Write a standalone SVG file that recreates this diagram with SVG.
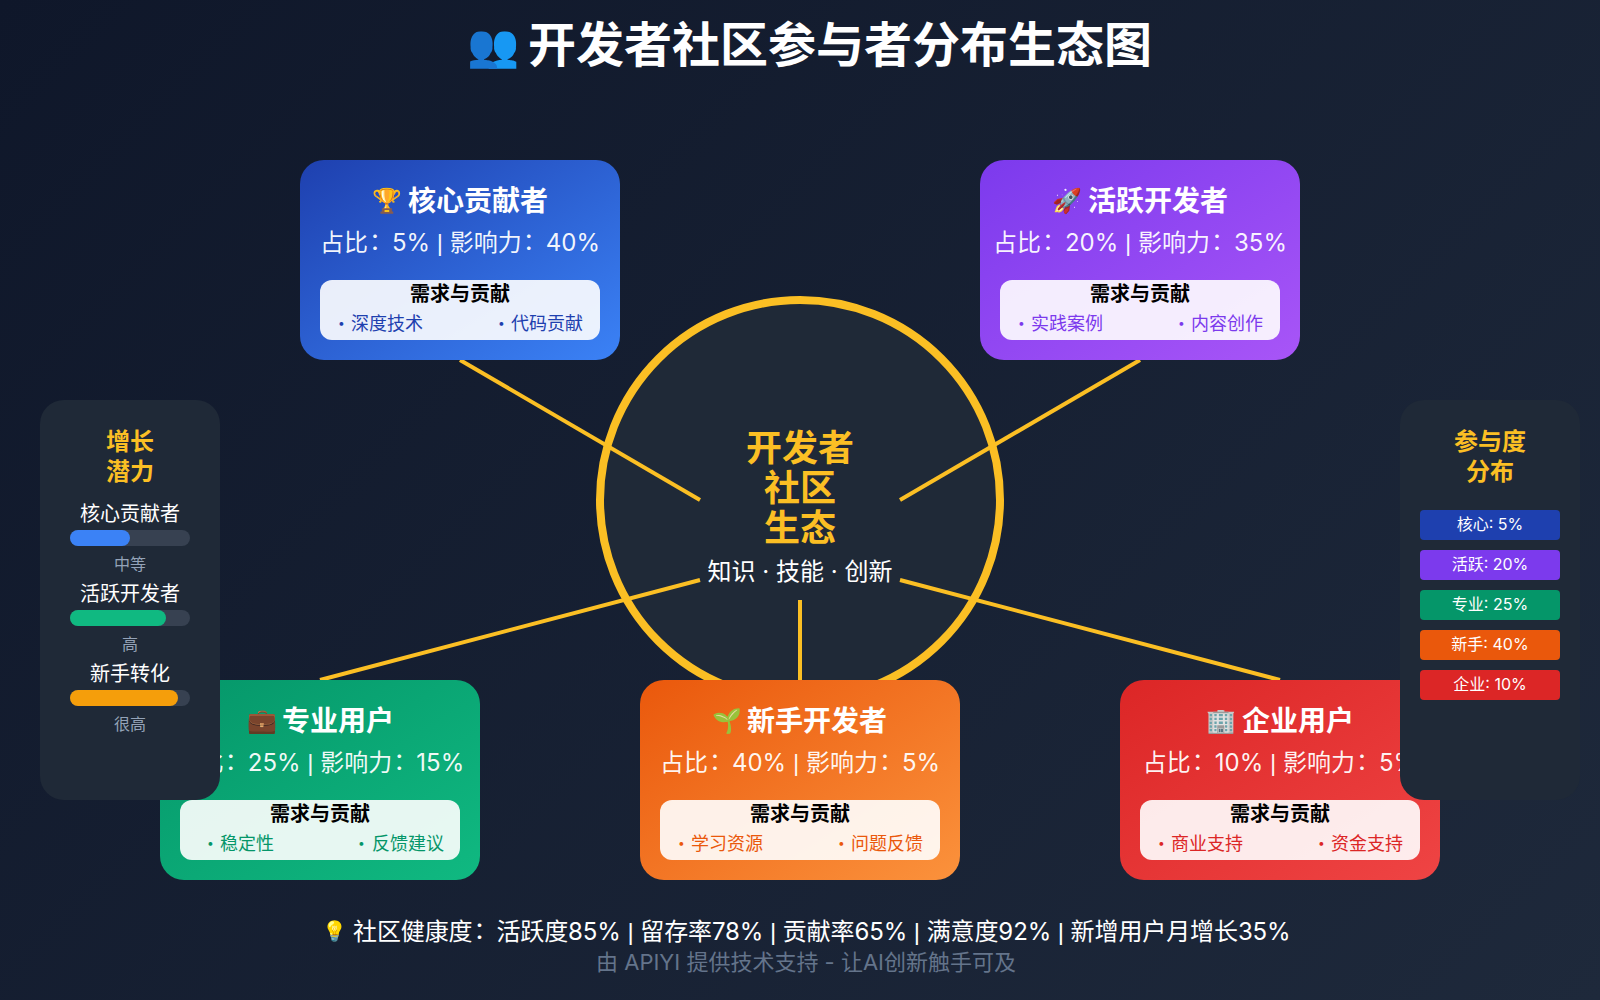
<svg xmlns="http://www.w3.org/2000/svg" width="1600" height="1000" viewBox="0 0 1600 1000">
<defs>
<linearGradient id="bg" gradientUnits="userSpaceOnUse" x1="150" y1="-150" x2="1450" y2="1150"><stop offset="0" stop-color="#0f172a"/><stop offset="1" stop-color="#1e293b"/></linearGradient>
<linearGradient id="gb" x1="0" y1="0" x2="1" y2="1"><stop offset="0" stop-color="#1e40af"/><stop offset="1" stop-color="#3b82f6"/></linearGradient>
<linearGradient id="gp" x1="0" y1="0" x2="1" y2="1"><stop offset="0" stop-color="#7c3aed"/><stop offset="1" stop-color="#a855f7"/></linearGradient>
<linearGradient id="gg" x1="0" y1="0" x2="1" y2="1"><stop offset="0" stop-color="#059669"/><stop offset="1" stop-color="#10b981"/></linearGradient>
<linearGradient id="go" x1="0" y1="0" x2="1" y2="1"><stop offset="0" stop-color="#ea580c"/><stop offset="1" stop-color="#fb923c"/></linearGradient>
<linearGradient id="gr" x1="0" y1="0" x2="1" y2="1"><stop offset="0" stop-color="#dc2626"/><stop offset="1" stop-color="#ef4444"/></linearGradient>
</defs>
<style>
text{font-family:"Inter","Noto Sans CJK SC","Noto Color Emoji",sans-serif;fill:#fff}
.m{text-anchor:middle}
.b{font-weight:700}
.ct{font-size:28px;font-weight:700}
.em{font-size:24px;font-weight:400}
.cs{font-size:24px;text-anchor:middle;fill:#fffffff2}
.nt{font-size:20px;font-weight:700;text-anchor:middle;fill:#000}
.it{font-size:18px}
.bu{font-size:12px}
.p{font-family:"Liberation Sans",sans-serif}
.c{font-family:"Noto Sans CJK TC",sans-serif}
.in{fill:#fff;fill-opacity:.9}
.panel{fill:#1f2937}
.pt{font-size:24px;font-weight:700;text-anchor:middle;fill:#fbbf24}
.pl{font-size:20px;text-anchor:middle}
.ps{font-size:16px;text-anchor:middle;fill:#94a3b8}
.tr{fill:#374151}
.lg{font-size:16px;text-anchor:middle}
.con{stroke:#fbbf24;stroke-width:4;fill:none}
.fb{fill:#1e40af}.fp{fill:#7c3aed}.fg{fill:#059669}.fo{fill:#ea580c}.fr{fill:#dc2626}
</style>
<rect width="1600" height="1000" fill="url(#bg)"/>
<g id="title"><text y="62" class="b" font-size="48"><tspan x="467" dy="-2" font-size="42" font-weight="400">👥</tspan><tspan x="528" dy="2">开发者社区参与者分布生态图</tspan></text></g>
<g id="center"><circle cx="800" cy="500" r="200" fill="#1f2937" stroke="#fbbf24" stroke-width="8"/>
<text x="800" y="461" class="m b" font-size="36" style="fill:#fbbf24">开发者</text>
<text x="800" y="501" class="m b" font-size="36" style="fill:#fbbf24">社区</text>
<text x="800" y="541" class="m b" font-size="36" style="fill:#fbbf24">生态</text>
<text x="800" y="580" class="m" font-size="24">知识 · 技能 · 创新</text></g>
<g id="connectors">
<line class="con" x1="460" y1="360" x2="700" y2="500"/>
<line class="con" x1="1140" y1="360" x2="900" y2="500"/>
<line class="con" x1="320" y1="680" x2="700" y2="580"/>
<line class="con" x1="800" y1="680" x2="800" y2="600"/>
<line class="con" x1="1280" y1="680" x2="900" y2="580"/>
</g>
<g id="core"><rect x="300" y="160" width="320" height="200" rx="24" fill="url(#gb)"/><rect class="in" x="320" y="280" width="280" height="60" rx="12"/>
<text class="ct" y="210.5"><tspan class="em" x="372" dy="-2">🏆</tspan><tspan x="408" dy="2">核心贡献者</tspan></text><text class="cs" x="460" y="250.5">占比<tspan class="c" dx="-5">：</tspan><tspan dx="5">5% </tspan><tspan class="p">|</tspan> 影响力<tspan class="c" dx="-5">：</tspan><tspan dx="5">40%</tspan></text><text class="nt" x="460" y="300.5">需求与贡献</text>
<text class="it fb" y="330"><tspan class="bu" x="338" dy="-3">•</tspan><tspan x="351" dy="3">深度技术</tspan><tspan class="bu" x="498" dy="-3">•</tspan><tspan x="511" dy="3">代码贡献</tspan></text></g>
<g id="active"><rect x="980" y="160" width="320" height="200" rx="24" fill="url(#gp)"/><rect class="in" x="1000" y="280" width="280" height="60" rx="12"/>
<text class="ct" y="210.5"><tspan class="em" x="1052" dy="-2">🚀</tspan><tspan x="1088" dy="2">活跃开发者</tspan></text><text class="cs" x="1140" y="250.5">占比<tspan class="c" dx="-5">：</tspan><tspan dx="5">20% </tspan><tspan class="p">|</tspan> 影响力<tspan class="c" dx="-5">：</tspan><tspan dx="5">35%</tspan></text><text class="nt" x="1140" y="300.5">需求与贡献</text>
<text class="it fp" y="330"><tspan class="bu" x="1018" dy="-3">•</tspan><tspan x="1031" dy="3">实践案例</tspan><tspan class="bu" x="1178" dy="-3">•</tspan><tspan x="1191" dy="3">内容创作</tspan></text></g>
<g id="pro"><rect x="160" y="680" width="320" height="200" rx="24" fill="url(#gg)"/><rect class="in" x="180" y="800" width="280" height="60" rx="12"/>
<text class="ct" y="730.5"><tspan class="em" x="247" dy="-2">💼</tspan><tspan x="282" dy="2">专业用户</tspan></text><text class="cs" x="320" y="770.5">占比<tspan class="c" dx="-5">：</tspan><tspan dx="5">25% </tspan><tspan class="p">|</tspan> 影响力<tspan class="c" dx="-5">：</tspan><tspan dx="5">15%</tspan></text><text class="nt" x="320" y="820.5">需求与贡献</text>
<text class="it fg" y="850"><tspan class="bu" x="207" dy="-3">•</tspan><tspan x="220" dy="3">稳定性</tspan><tspan class="bu" x="358" dy="-3">•</tspan><tspan x="372" dy="3">反馈建议</tspan></text></g>
<g id="newbie"><rect x="640" y="680" width="320" height="200" rx="24" fill="url(#go)"/><rect class="in" x="660" y="800" width="280" height="60" rx="12"/>
<text class="ct" y="730.5"><tspan class="em" x="712" dy="-2">🌱</tspan><tspan x="747" dy="2">新手开发者</tspan></text><text class="cs" x="800" y="770.5">占比<tspan class="c" dx="-5">：</tspan><tspan dx="5">40% </tspan><tspan class="p">|</tspan> 影响力<tspan class="c" dx="-5">：</tspan><tspan dx="5">5%</tspan></text><text class="nt" x="800" y="820.5">需求与贡献</text>
<text class="it fo" y="850"><tspan class="bu" x="678" dy="-3">•</tspan><tspan x="691" dy="3">学习资源</tspan><tspan class="bu" x="838" dy="-3">•</tspan><tspan x="851" dy="3">问题反馈</tspan></text></g>
<g id="enterprise"><rect x="1120" y="680" width="320" height="200" rx="24" fill="url(#gr)"/><rect class="in" x="1140" y="800" width="280" height="60" rx="12"/>
<text class="ct" y="730.5"><tspan class="em" x="1206" dy="-2">🏢</tspan><tspan x="1242" dy="2">企业用户</tspan></text><text class="cs" x="1280" y="770.5">占比<tspan class="c" dx="-5">：</tspan><tspan dx="5">10% </tspan><tspan class="p">|</tspan> 影响力<tspan class="c" dx="-5">：</tspan><tspan dx="5">5%</tspan></text><text class="nt" x="1280" y="820.5">需求与贡献</text>
<text class="it fr" y="850"><tspan class="bu" x="1158" dy="-3">•</tspan><tspan x="1171" dy="3">商业支持</tspan><tspan class="bu" x="1318" dy="-3">•</tspan><tspan x="1331" dy="3">资金支持</tspan></text></g>
<g id="growth"><rect class="panel" x="40" y="400" width="180" height="400" rx="24"/>
<text class="pt" x="130" y="450">增长</text><text class="pt" x="130" y="480">潜力</text>
<text class="pl" x="130" y="521">核心贡献者</text><rect class="tr" x="70" y="530" width="120" height="16" rx="8"/><rect x="70" y="530" width="60" height="16" rx="8" fill="#3b82f6"/><text class="ps" x="130" y="570">中等</text>
<text class="pl" x="130" y="601">活跃开发者</text><rect class="tr" x="70" y="610" width="120" height="16" rx="8"/><rect x="70" y="610" width="96" height="16" rx="8" fill="#10b981"/><text class="ps" x="130" y="650">高</text>
<text class="pl" x="130" y="681">新手转化</text><rect class="tr" x="70" y="690" width="120" height="16" rx="8"/><rect x="70" y="690" width="108" height="16" rx="8" fill="#f59e0b"/><text class="ps" x="130" y="730">很高</text></g>
<g id="dist"><rect class="panel" x="1400" y="400" width="180" height="400" rx="24"/>
<text class="pt" x="1490" y="450">参与度</text><text class="pt" x="1490" y="480">分布</text>
<rect x="1420" y="510" width="140" height="30" rx="4" fill="#1e40af"/><text class="lg" x="1490" y="530">核心: 5%</text>
<rect x="1420" y="550" width="140" height="30" rx="4" fill="#7c3aed"/><text class="lg" x="1490" y="570">活跃: 20%</text>
<rect x="1420" y="590" width="140" height="30" rx="4" fill="#059669"/><text class="lg" x="1490" y="610">专业: 25%</text>
<rect x="1420" y="630" width="140" height="30" rx="4" fill="#ea580c"/><text class="lg" x="1490" y="650">新手: 40%</text>
<rect x="1420" y="670" width="140" height="30" rx="4" fill="#dc2626"/><text class="lg" x="1490" y="690">企业: 10%</text></g>
<g id="footer"><text y="940" font-size="24" letter-spacing="-0.1"><tspan x="322" dy="-2" font-size="20">💡</tspan><tspan x="353" dy="2">社区健康度</tspan><tspan class="c" dx="-5">：</tspan><tspan dx="5">活跃度85% </tspan><tspan class="p">|</tspan> 留存率78% <tspan class="p">|</tspan> 贡献率65% <tspan class="p">|</tspan> 满意度92% <tspan class="p">|</tspan> 新增用户月增长35%</text>
<text class="m" x="806" y="970" font-size="22" style="fill:#64748b">由 APIYI 提供技术支持 - 让AI创新触手可及</text></g>
</svg>
